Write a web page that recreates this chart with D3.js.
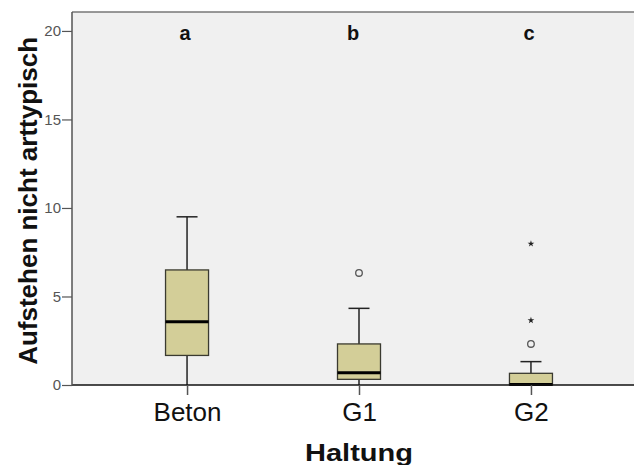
<!DOCTYPE html>
<html>
<head>
<meta charset="utf-8">
<script src="https://cdn.jsdelivr.net/npm/d3@7"></script>
<style>
  body { margin: 0; background: #fff; }
  svg { display: block; font-family: Arial, "Liberation Sans", sans-serif; }
</style>
</head>
<body>
<div class="canvas"></div>
<script>
// data
const groups = ['Beton', 'G1', 'G2'];
const whiskerLow = [0, 0, 0];
const q1 = [1.67, 0.32, 0];
const medians = [3.54, 0.66, 0];
const q3 = [6.5, 2.32, 0.66];
const whiskerHigh = [9.5, 4.33, 1.32];
// outliers: circles, extremes: stars
const outlierGroup = ['G1', 'G2'];
const outlierValue = [6.33, 2.32];
const extremeGroup = ['G2', 'G2'];
const extremeValue = [3.65, 7.98];
const letters = ['a', 'b', 'c'];
const yTicks = [0, 5, 10, 15, 20];

const margin = { top: 12, right: -12, bottom: 80, left: 72 };
const width = 634, height = 465;
const graphWidth = width - margin.left - margin.right;
const graphHeight = height - margin.top - margin.bottom;

const svg = d3.select('.canvas')
  .append('svg')
   .attr('width', width)
   .attr('height', height);

const graph = svg.append('g')
  .attr('transform', `translate(${margin.left}, ${margin.top})`);

const x = d3.scalePoint()
  .domain(groups)
  .range([0, graphWidth])
  .padding(0.669);

const y = d3.scaleLinear()
  .domain([0, 21.07])
  .range([graphHeight, 0]);

// plot background
graph.append('rect')
  .attr('width', graphWidth)
  .attr('height', graphHeight)
  .attr('fill', '#f0f0f0');

// top frame line
graph.append('line')
  .attr('x1', 0).attr('x2', graphWidth)
  .attr('y1', 0).attr('y2', 0)
  .attr('stroke', '#777').attr('stroke-width', 1.5);

const boxes = groups.map((g, i) => ({
  g, lo: whiskerLow[i], q1: q1[i], med: medians[i], q3: q3[i], hi: whiskerHigh[i]
}));

const boxW = 43, capW = 21;

// whiskers
graph.selectAll('.whisker')
  .data(boxes)
  .enter().append('line')
   .attr('x1', d => x(d.g)).attr('x2', d => x(d.g))
   .attr('y1', d => y(d.lo)).attr('y2', d => y(d.hi))
   .attr('stroke', '#222').attr('stroke-width', 1.5);

graph.selectAll('.cap')
  .data(boxes)
  .enter().append('line')
   .attr('x1', d => x(d.g) - capW / 2).attr('x2', d => x(d.g) + capW / 2)
   .attr('y1', d => y(d.hi)).attr('y2', d => y(d.hi))
   .attr('stroke', '#222').attr('stroke-width', 1.5);

// boxes
graph.selectAll('.box')
  .data(boxes)
  .enter().append('rect')
   .attr('x', d => x(d.g) - boxW / 2)
   .attr('y', d => y(d.q3))
   .attr('width', boxW)
   .attr('height', d => y(d.q1) - y(d.q3))
   .attr('fill', '#d3ce98')
   .attr('stroke', '#3a3a30').attr('stroke-width', 1.3);

// medians
graph.selectAll('.median')
  .data(boxes)
  .enter().append('line')
   .attr('x1', d => x(d.g) - boxW / 2).attr('x2', d => x(d.g) + boxW / 2)
   .attr('y1', d => y(d.med) - 0.5).attr('y2', d => y(d.med) - 0.5)
   .attr('stroke', '#000').attr('stroke-width', 3);

// outliers
graph.selectAll('.outlier')
  .data(outlierGroup.map((g, i) => ({ g, v: outlierValue[i] })))
  .enter().append('circle')
   .attr('cx', d => x(d.g)).attr('cy', d => y(d.v))
   .attr('r', 3.3)
   .attr('fill', 'none')
   .attr('stroke', '#555').attr('stroke-width', 1.3);

// extremes
graph.selectAll('.extreme')
  .data(extremeGroup.map((g, i) => ({ g, v: extremeValue[i] })))
  .enter().append('path')
   .attr('d', d3.symbol().type(d3.symbolStar).size(14))
   .attr('transform', d => `translate(${x(d.g)}, ${y(d.v)})`)
   .attr('fill', '#222');

// group letters
graph.selectAll('.letter')
  .data(letters)
  .enter().append('text')
   .attr('x', (d, i) => x(groups[i]) - (i === 1 ? 6 : 2))
   .attr('y', 28)
   .attr('text-anchor', 'middle')
   .attr('font-size', '20px')
   .attr('font-weight', 'bold')
   .attr('fill', '#111')
   .text(d => d);

// axes
const xAxisGroup = graph.append('g')
  .attr('transform', `translate(0, ${graphHeight})`);
const yAxisGroup = graph.append('g');

xAxisGroup.call(d3.axisBottom(x).tickSize(10).tickPadding(8));
yAxisGroup.call(d3.axisLeft(y).tickValues(yTicks).tickSize(10).tickPadding(1));

xAxisGroup.select('.domain')
  .attr('d', `M0,0H${graphWidth}`)
  .attr('stroke', '#111').attr('stroke-width', 1.5);
xAxisGroup.selectAll('.tick line').attr('stroke', '#555').attr('stroke-width', 1.5);
xAxisGroup.selectAll('text')
  .attr('font-size', '26px')
  .attr('font-family', 'Arial, "Liberation Sans", sans-serif')
  .attr('fill', '#111');

yAxisGroup.select('.domain')
  .attr('d', `M0,0V${graphHeight}`)
  .attr('stroke', '#555').attr('stroke-width', 1.5);
yAxisGroup.selectAll('.tick line').attr('stroke', '#555').attr('stroke-width', 1.2);
yAxisGroup.selectAll('text')
  .attr('font-size', '15px')
  .attr('font-family', 'Arial, "Liberation Sans", sans-serif')
  .attr('fill', '#555');

// axis titles
svg.append('text')
  .attr('transform', `translate(37, ${margin.top + y(10.4)}) rotate(-90)`)
  .attr('text-anchor', 'middle')
  .attr('font-size', '26px')
  .attr('font-weight', 'bold')
  .attr('fill', '#111')
  .text('Aufstehen nicht arttypisch');

svg.append('text')
  .attr('x', 359)
  .attr('y', 461)
  .attr('text-anchor', 'middle')
  .attr('font-size', '24px')
  .attr('font-weight', 'bold')
  .attr('textLength', 108)
  .attr('lengthAdjust', 'spacingAndGlyphs')
  .attr('fill', '#111')
  .text('Haltung');
</script>
</body>
</html>
